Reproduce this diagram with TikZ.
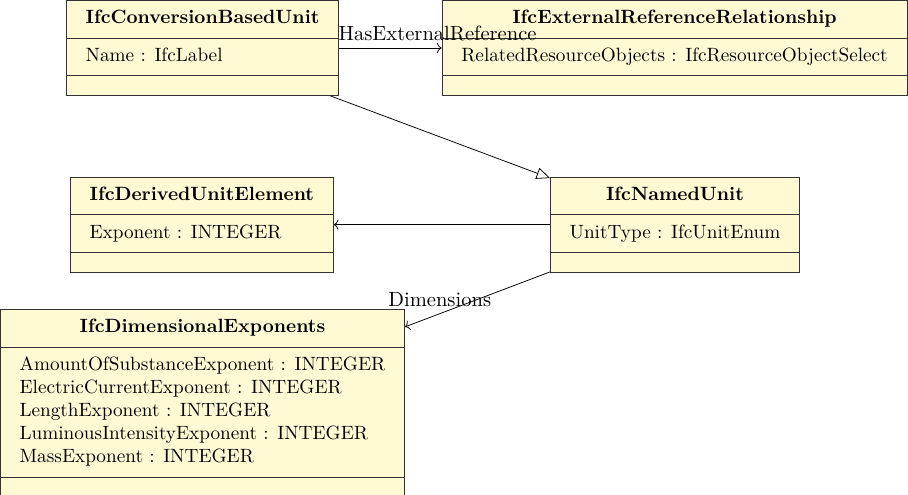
\documentclass[tikz,border=0pt]{standalone}
\usepackage{tikz}
\usetikzlibrary{shapes.multipart,arrows.meta}
\definecolor{classfill}{RGB}{255,250,212}
\tikzset{
  umlclass/.style={rectangle split, rectangle split parts=3, draw=black!80, fill=classfill,
    rectangle split part align={center,left,left}, inner xsep=10pt, inner ysep=3.6pt,
    anchor=north west},
  assoclabel/.style={above, font=\fontsize{10.7pt}{13pt}\selectfont},
  inherit/.style={-{Triangle[open,length=7pt,width=6pt]}}
}
\newcommand{\attrs}[1]{{\renewcommand{\arraystretch}{1}\begin{tabular}{@{}l@{}}#1\end{tabular}}}
\newcommand{\noattr}{\rule{0pt}{2.7pt}}
\begin{document}
\begin{tikzpicture}[x=0.52pt, y=-0.52pt]
\useasboundingbox (0,0) rectangle (908,495);
\node[umlclass] (convunit) at (66,0) {\textbf{IfcConversionBasedUnit}\strut
  \nodepart{two}\attrs{Name : IfcLabel}
  \nodepart{three}\noattr};
\node[umlclass] (extrel) at (441.7,0) {\textbf{IfcExternalReferenceRelationship}\strut
  \nodepart{two}\attrs{RelatedResourceObjects : IfcResourceObjectSelect}
  \nodepart{three}\noattr};
\node[umlclass] (derivedelem) at (70,176.7) {\textbf{IfcDerivedUnitElement}\strut
  \nodepart{two}\attrs{Exponent : INTEGER}
  \nodepart{three}\noattr};
\node[umlclass] (namedunit) at (550,176.7) {\textbf{IfcNamedUnit}\strut
  \nodepart{two}\attrs{UnitType : IfcUnitEnum}
  \nodepart{three}\noattr};
\node[umlclass] (dimexp) at (0,309) {\textbf{IfcDimensionalExponents}\strut
  \nodepart{two}\attrs{AmountOfSubstanceExponent : INTEGER\\
    ElectricCurrentExponent : INTEGER\\
    LengthExponent : INTEGER\\
    LuminousIntensityExponent : INTEGER\\
    MassExponent : INTEGER}
  \nodepart{three}\noattr};
\draw[->] (convunit) -- node[assoclabel, pos=0.96] (hasextref) {HasExternalReference} (extrel);
\draw[inherit] (convunit) -- (namedunit);
\draw[->] (namedunit) -- (derivedelem);
\draw[->] (namedunit) -- node[assoclabel, pos=0.76] (dimensions) {Dimensions} (dimexp);
\end{tikzpicture}
\end{document}
